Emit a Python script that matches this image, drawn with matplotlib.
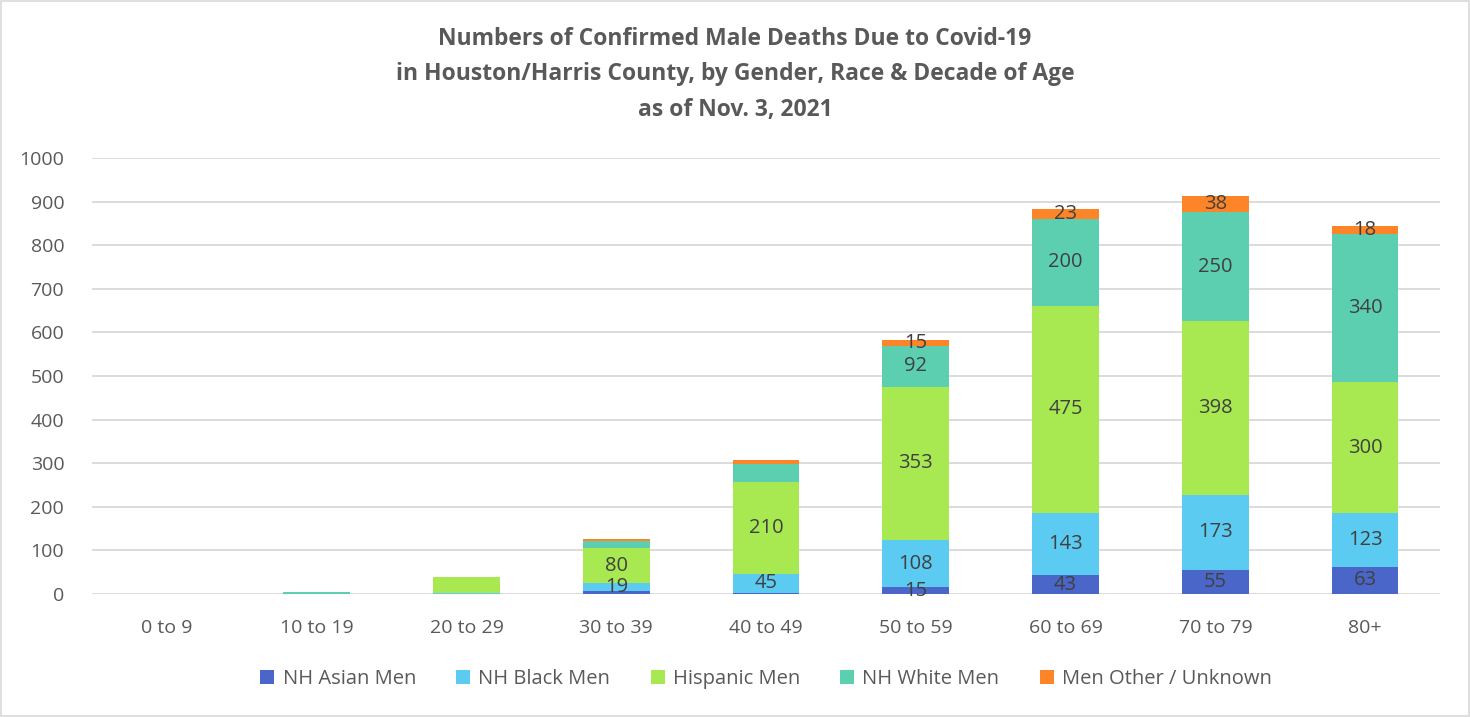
import matplotlib
matplotlib.use("Agg")
import numpy as np
from matplotlib import pyplot as plt
from matplotlib.patches import Rectangle

ages = ["0 to 9", "10 to 19", "20 to 29", "30 to 39", "40 to 49",
        "50 to 59", "60 to 69", "70 to 79", "80+"]

asian = [0, 0, 0, 6, 2, 15, 43, 55, 63]
black = [0, 0, 3, 19, 45, 108, 143, 173, 123]
hispanic = [0, 1, 35, 80, 210, 353, 475, 398, 300]
white = [0, 3, 1, 17, 42, 92, 200, 250, 340]
other = [0, 0, 0, 4, 8, 15, 23, 38, 18]

# which segments carry a data label in the original
asian_lbl = [0, 0, 0, 0, 0, 1, 1, 1, 1]
black_lbl = [0, 0, 0, 1, 1, 1, 1, 1, 1]
hispanic_lbl = [0, 0, 0, 1, 1, 1, 1, 1, 1]
white_lbl = [0, 0, 0, 0, 0, 1, 1, 1, 1]
other_lbl = [0, 0, 0, 0, 0, 1, 1, 1, 1]

series = [
    ("NH Asian Men", asian, asian_lbl, "#4A66C8"),
    ("NH Black Men", black, black_lbl, "#5BCBF2"),
    ("Hispanic Men", hispanic, hispanic_lbl, "#A8E952"),
    ("NH White Men", white, white_lbl, "#5DCFB1"),
    ("Men Other / Unknown", other, other_lbl, "#FD8427"),
]

plt.rcParams['font.family'] = ['Open Sans', 'DejaVu Sans']
txt = "#404040"

fig = plt.figure(figsize=(14.7, 7.17), dpi=100)
ax = fig.add_axes([0.0626, 0.1715, 0.917, 0.608])

x = np.arange(len(ages))
bottom = np.zeros(len(ages))
for name, vals, lbls, col in series:
    vals = np.array(vals, dtype=float)
    ax.bar(x, vals, 0.445, bottom=bottom, color=col, label=name, zorder=3)
    for i, v in enumerate(vals):
        if lbls[i]:
            ax.text(x[i], bottom[i] + v / 2, str(int(v)), ha="center", va="center",
                    fontsize=14.5, color=txt, zorder=4)
    bottom += vals

ax.set_xlim(-0.5, len(ages) - 0.5)
ax.set_ylim(0, 1000)
ax.set_yticks(range(0, 1001, 100))
ax.set_xticks(x)
ax.set_xticklabels(ages)
ax.tick_params(axis="both", length=0, labelsize=14, colors="#595959")
ax.tick_params(axis="x", pad=18)
ax.tick_params(axis="y", pad=20)
ax.grid(axis="y", color="#D9D9D9", linewidth=1.3, zorder=0)
for s in ax.spines.values():
    s.set_visible(False)

fig.text(0.5, 0.962, "Numbers of Confirmed Male Deaths Due to Covid-19\n"
         "in Houston/Harris County, by Gender, Race & Decade of Age\n"
         "as of Nov. 3, 2021", ha="center", va="top", fontsize=16.5,
         fontweight="bold", color="#595959", linespacing=1.62)

ax.legend(loc="upper center", bbox_to_anchor=(0.5, -0.13), ncol=5, frameon=False,
          fontsize=14.5, labelcolor="#595959", handlelength=0.7, handleheight=0.7,
          handletextpad=0.4, columnspacing=2.0)

fig.patches.append(Rectangle((0.001, 0.001), 0.998, 0.997, transform=fig.transFigure,
                             fill=False, edgecolor="#D9D9D9", linewidth=1.2))

fig.savefig("out.png", dpi=100)
